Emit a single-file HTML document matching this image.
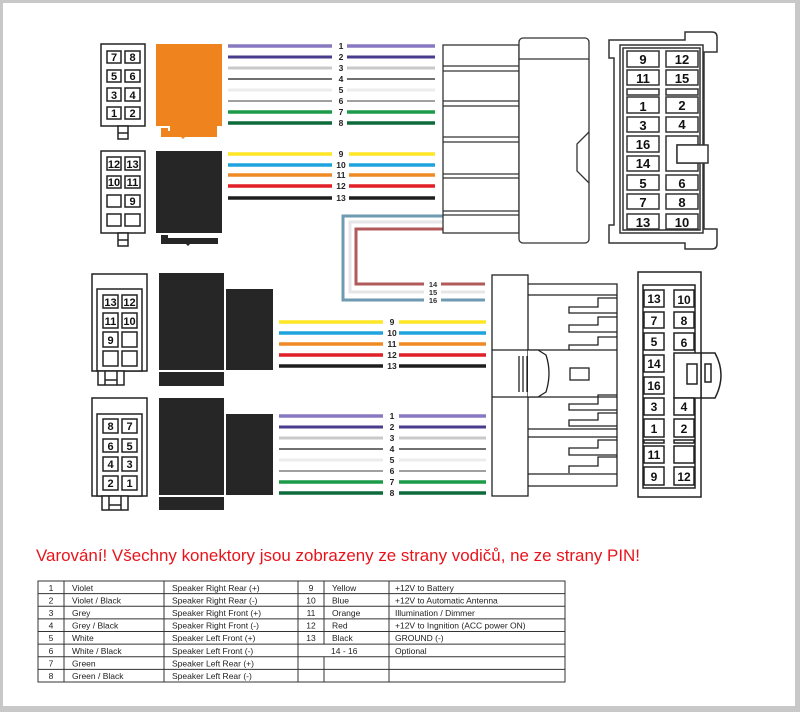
<!DOCTYPE html>
<html><head><meta charset="utf-8"><style>
html,body{margin:0;padding:0;background:#c8c8c8;}
svg{display:block;}
text{font-family:"Liberation Sans",Arial,sans-serif;}
</style></head><body>
<svg width="800" height="712" viewBox="0 0 800 712" xmlns="http://www.w3.org/2000/svg">
<rect x="0" y="0" width="800" height="712" fill="#c8c8c8"/>
<rect x="3" y="3" width="792" height="703" fill="#fff"/>

<g stroke="#222" stroke-width="1.5" fill="#fff">
<!-- top-left connector 1 -->
<rect x="101" y="44" width="44" height="82"/>
<rect x="118" y="126" width="10" height="13"/>
<line x1="118" y1="133" x2="128" y2="133"/>
<rect x="107" y="51" width="14" height="12"/><rect x="125" y="51" width="15" height="12"/>
<rect x="107" y="70" width="14" height="12"/><rect x="125" y="70" width="15" height="12"/>
<rect x="107" y="88" width="14" height="13"/><rect x="125" y="88" width="15" height="13"/>
<rect x="107" y="107" width="14" height="12"/><rect x="125" y="107" width="15" height="12"/>
<!-- top-left connector 2 -->
<rect x="101" y="151" width="44" height="82"/>
<rect x="118" y="233" width="10" height="13"/>
<line x1="118" y1="240" x2="128" y2="240"/>
<rect x="107" y="157" width="14" height="13"/><rect x="125" y="157" width="15" height="13"/>
<rect x="107" y="176" width="14" height="12"/><rect x="125" y="176" width="15" height="12"/>
<rect x="107" y="195" width="14" height="12"/><rect x="125" y="195" width="15" height="12"/>
<rect x="107" y="214" width="14" height="12"/><rect x="125" y="214" width="15" height="12"/>
</g>
<g font-weight="bold" font-size="11" text-anchor="middle" fill="#111">
<text x="114" y="61">7</text><text x="132.5" y="61">8</text>
<text x="114" y="80">5</text><text x="132.5" y="80">6</text>
<text x="114" y="99">3</text><text x="132.5" y="99">4</text>
<text x="114" y="117">1</text><text x="132.5" y="117">2</text>
<text x="114" y="168">12</text><text x="132.5" y="168">13</text>
<text x="114" y="186">10</text><text x="132.5" y="186">11</text>
<text x="132.5" y="205">9</text>
</g>
<!-- orange block -->
<path d="M156,44 H222 V126 H217 V131 H170 V126 H156 Z" fill="#ef841f"/>
<path d="M161,128 H168 V131 H217 V137 H185 L183,139 L181,137 H161 Z" fill="#ef841f"/>
<!-- black block top -->
<path d="M156,151 H222 V233 H156 Z" fill="#262626"/>
<path d="M161,235 H168 V238 H218 V244 H190 L188,246 L186,244 H161 Z" fill="#262626"/>

<!-- top wires -->
<g stroke-linecap="butt">
<line x1="228" y1="46" x2="332" y2="46" stroke="#8878c0" stroke-width="3.5"/><line x1="347" y1="46" x2="435" y2="46" stroke="#8878c0" stroke-width="3.5"/>
<line x1="228" y1="57" x2="332" y2="57" stroke="#4a3c8c" stroke-width="3"/><line x1="347" y1="57" x2="435" y2="57" stroke="#4a3c8c" stroke-width="3"/>
<line x1="228" y1="68" x2="332" y2="68" stroke="#c9c9c9" stroke-width="3"/><line x1="347" y1="68" x2="435" y2="68" stroke="#c9c9c9" stroke-width="3"/>
<line x1="228" y1="79" x2="332" y2="79" stroke="#707070" stroke-width="2"/><line x1="347" y1="79" x2="435" y2="79" stroke="#707070" stroke-width="2"/>
<line x1="228" y1="90" x2="332" y2="90" stroke="#ececec" stroke-width="3"/><line x1="347" y1="90" x2="435" y2="90" stroke="#ececec" stroke-width="3"/>
<line x1="228" y1="101" x2="332" y2="101" stroke="#808080" stroke-width="1.5"/><line x1="347" y1="101" x2="435" y2="101" stroke="#808080" stroke-width="1.5"/>
<line x1="228" y1="112" x2="332" y2="112" stroke="#1b9a48" stroke-width="3.5"/><line x1="347" y1="112" x2="435" y2="112" stroke="#1b9a48" stroke-width="3.5"/>
<line x1="228" y1="123" x2="332" y2="123" stroke="#0d6a3a" stroke-width="3.5"/><line x1="347" y1="123" x2="435" y2="123" stroke="#0d6a3a" stroke-width="3.5"/>
<line x1="228" y1="154" x2="332" y2="154" stroke="#ffe625" stroke-width="3.5"/><line x1="349" y1="154" x2="435" y2="154" stroke="#ffe625" stroke-width="3.5"/>
<line x1="228" y1="165" x2="332" y2="165" stroke="#1ea3dd" stroke-width="3.5"/><line x1="349" y1="165" x2="435" y2="165" stroke="#1ea3dd" stroke-width="3.5"/>
<line x1="228" y1="175" x2="332" y2="175" stroke="#ef8a25" stroke-width="3.5"/><line x1="349" y1="175" x2="435" y2="175" stroke="#ef8a25" stroke-width="3.5"/>
<line x1="228" y1="186" x2="332" y2="186" stroke="#e01f26" stroke-width="3.5"/><line x1="349" y1="186" x2="435" y2="186" stroke="#e01f26" stroke-width="3.5"/>
<line x1="228" y1="198" x2="332" y2="198" stroke="#1e1e1e" stroke-width="3.5"/><line x1="349" y1="198" x2="435" y2="198" stroke="#1e1e1e" stroke-width="3.5"/>
</g>
<g font-weight="bold" font-size="8.5" text-anchor="middle" fill="#222">
<text x="341" y="49">1</text><text x="341" y="60">2</text><text x="341" y="71">3</text><text x="341" y="82">4</text>
<text x="341" y="93">5</text><text x="341" y="104">6</text><text x="341" y="115">7</text><text x="341" y="126">8</text>
<text x="341" y="157">9</text><text x="341" y="168">10</text><text x="341" y="178">11</text><text x="341" y="189">12</text><text x="341" y="201">13</text>
</g>

<!-- loop wires 14-16 -->
<g fill="none" stroke-width="3">
<polyline points="443,216 343,216 343,300 424,300" stroke="#6e9ab2"/>
<polyline points="443,222 350,222 350,292 424,292" stroke="#e6e6e6"/>
<polyline points="443,229 356,229 356,284 424,284" stroke="#b25a5a"/>
<line x1="441" y1="284" x2="485" y2="284" stroke="#b25a5a"/>
<line x1="441" y1="292" x2="485" y2="292" stroke="#e6e6e6"/>
<line x1="441" y1="300" x2="485" y2="300" stroke="#6e9ab2"/>
</g>
<g font-weight="bold" font-size="7.5" text-anchor="middle" fill="#333">
<text x="433" y="287">14</text><text x="433" y="295">15</text><text x="433" y="303">16</text>
</g>

<!-- top right connector body -->
<g stroke="#333" stroke-width="1.3" fill="#fff">
<rect x="443" y="45" width="76" height="188"/>
<rect x="519" y="38" width="70" height="205" rx="4"/>
<line x1="519" y1="59" x2="589" y2="59"/>
<line x1="443" y1="66" x2="519" y2="66"/><line x1="443" y1="71" x2="519" y2="71"/>
<line x1="443" y1="101" x2="519" y2="101"/><line x1="443" y1="106" x2="519" y2="106"/>
<line x1="443" y1="137" x2="519" y2="137"/><line x1="443" y1="142" x2="519" y2="142"/>
<line x1="443" y1="174" x2="519" y2="174"/><line x1="443" y1="178" x2="519" y2="178"/>
<line x1="443" y1="211" x2="519" y2="211"/><line x1="443" y1="215" x2="519" y2="215"/>
<polyline points="589,132 577,144 577,171 589,183" fill="none"/>
</g>
<!-- top right pinout -->
<g stroke="#333" stroke-width="1.5" fill="#fff">
<path d="M609,40 H685 V32 H712 Q717,32 717,37 V52 H704 V229 H717 V244 Q717,249 712,249 H685 V243 H609 V225 H614 V58 H609 Z"/>
<rect x="620" y="45" width="83" height="188"/>
<rect x="623" y="48" width="77" height="182"/>
<rect x="627" y="51" width="32" height="16"/><rect x="666" y="51" width="32" height="16"/>
<rect x="627" y="70" width="32" height="15"/><rect x="666" y="70" width="32" height="15"/>
<rect x="627" y="89" width="32" height="6"/><rect x="666" y="89" width="32" height="6"/>
<rect x="627" y="97" width="32" height="16"/><rect x="666" y="97" width="32" height="16"/>
<rect x="627" y="117" width="32" height="15"/><rect x="666" y="117" width="32" height="15"/>
<rect x="627" y="136" width="32" height="16"/>
<rect x="627" y="156" width="32" height="15"/>
<path d="M666,136 H698 V145 H677 V163 H698 V171 H666 Z"/>
<rect x="677" y="145" width="31" height="18"/>
<rect x="627" y="175" width="32" height="15"/><rect x="666" y="175" width="32" height="15"/>
<rect x="627" y="194" width="32" height="15"/><rect x="666" y="194" width="32" height="15"/>
<rect x="627" y="214" width="32" height="15"/><rect x="666" y="214" width="32" height="15"/>
</g>
<g font-weight="bold" font-size="13" text-anchor="middle" fill="#111">
<text x="643" y="64">9</text><text x="682" y="64">12</text>
<text x="643" y="83">11</text><text x="682" y="83">15</text>
<text x="643" y="111">1</text><text x="682" y="110">2</text>
<text x="643" y="130">3</text><text x="682" y="129">4</text>
<text x="643" y="149">16</text>
<text x="643" y="168">14</text>
<text x="643" y="188">5</text><text x="682" y="188">6</text>
<text x="643" y="207">7</text><text x="682" y="207">8</text>
<text x="643" y="227">13</text><text x="682" y="227">10</text>
</g>

<!-- bottom left connectors -->
<g stroke="#222" stroke-width="1.5" fill="#fff">
<rect x="92" y="274" width="55" height="97"/>
<rect x="97" y="289" width="45" height="82"/>
<rect x="98" y="371" width="26" height="14"/>
<line x1="105" y1="371" x2="105" y2="385"/><line x1="117" y1="371" x2="117" y2="385"/><line x1="105" y1="380" x2="117" y2="380"/>
<rect x="103" y="295" width="15" height="13"/><rect x="122" y="295" width="15" height="13"/>
<rect x="103" y="313" width="15" height="15"/><rect x="122" y="313" width="15" height="15"/>
<rect x="103" y="332" width="15" height="15"/><rect x="122" y="332" width="15" height="15"/>
<rect x="103" y="351" width="15" height="15"/><rect x="122" y="351" width="15" height="15"/>

<rect x="92" y="398" width="55" height="98"/>
<rect x="97" y="414" width="45" height="82"/>
<rect x="102" y="496" width="26" height="14"/>
<line x1="109" y1="496" x2="109" y2="510"/><line x1="121" y1="496" x2="121" y2="510"/><line x1="109" y1="505" x2="121" y2="505"/>
<rect x="103" y="419" width="15" height="14"/><rect x="122" y="419" width="15" height="14"/>
<rect x="103" y="439" width="15" height="13"/><rect x="122" y="439" width="15" height="13"/>
<rect x="103" y="457" width="15" height="14"/><rect x="122" y="457" width="15" height="14"/>
<rect x="103" y="476" width="15" height="14"/><rect x="122" y="476" width="15" height="14"/>
</g>
<g font-weight="bold" font-size="11" text-anchor="middle" fill="#111">
<text x="110.5" y="306">13</text><text x="129.5" y="306">12</text>
<text x="110.5" y="325">11</text><text x="129.5" y="325">10</text>
<text x="110.5" y="344">9</text>
<text x="110.5" y="430">8</text><text x="129.5" y="430">7</text>
<text x="110.5" y="450">6</text><text x="129.5" y="450">5</text>
<text x="110.5" y="468">4</text><text x="129.5" y="468">3</text>
<text x="110.5" y="487">2</text><text x="129.5" y="487">1</text>
</g>
<g fill="#262626">
<rect x="159" y="273" width="65" height="97"/>
<rect x="159" y="372" width="65" height="14"/>
<rect x="226" y="289" width="47" height="81"/>
<rect x="159" y="398" width="65" height="97"/>
<rect x="159" y="497" width="65" height="13"/>
<rect x="226" y="414" width="47" height="81"/>
</g>

<!-- bottom wires -->
<g>
<line x1="279" y1="322" x2="383" y2="322" stroke="#ffe625" stroke-width="3.5"/><line x1="399" y1="322" x2="486" y2="322" stroke="#ffe625" stroke-width="3.5"/>
<line x1="279" y1="333" x2="383" y2="333" stroke="#1ea3dd" stroke-width="3.5"/><line x1="399" y1="333" x2="486" y2="333" stroke="#1ea3dd" stroke-width="3.5"/>
<line x1="279" y1="344" x2="383" y2="344" stroke="#ef8a25" stroke-width="3.5"/><line x1="399" y1="344" x2="486" y2="344" stroke="#ef8a25" stroke-width="3.5"/>
<line x1="279" y1="355" x2="383" y2="355" stroke="#e01f26" stroke-width="3.5"/><line x1="399" y1="355" x2="486" y2="355" stroke="#e01f26" stroke-width="3.5"/>
<line x1="279" y1="366" x2="383" y2="366" stroke="#1e1e1e" stroke-width="3.5"/><line x1="399" y1="366" x2="486" y2="366" stroke="#1e1e1e" stroke-width="3.5"/>
<line x1="279" y1="416" x2="383" y2="416" stroke="#8878c0" stroke-width="3.5"/><line x1="399" y1="416" x2="486" y2="416" stroke="#8878c0" stroke-width="3.5"/>
<line x1="279" y1="427" x2="383" y2="427" stroke="#4a3c8c" stroke-width="3"/><line x1="399" y1="427" x2="486" y2="427" stroke="#4a3c8c" stroke-width="3"/>
<line x1="279" y1="438" x2="383" y2="438" stroke="#c9c9c9" stroke-width="3"/><line x1="399" y1="438" x2="486" y2="438" stroke="#c9c9c9" stroke-width="3"/>
<line x1="279" y1="449" x2="383" y2="449" stroke="#707070" stroke-width="2"/><line x1="399" y1="449" x2="486" y2="449" stroke="#707070" stroke-width="2"/>
<line x1="279" y1="460" x2="383" y2="460" stroke="#ececec" stroke-width="3"/><line x1="399" y1="460" x2="486" y2="460" stroke="#ececec" stroke-width="3"/>
<line x1="279" y1="471" x2="383" y2="471" stroke="#808080" stroke-width="1.5"/><line x1="399" y1="471" x2="486" y2="471" stroke="#808080" stroke-width="1.5"/>
<line x1="279" y1="482" x2="383" y2="482" stroke="#1b9a48" stroke-width="3.5"/><line x1="399" y1="482" x2="486" y2="482" stroke="#1b9a48" stroke-width="3.5"/>
<line x1="279" y1="493" x2="383" y2="493" stroke="#0d6a3a" stroke-width="3.5"/><line x1="399" y1="493" x2="486" y2="493" stroke="#0d6a3a" stroke-width="3.5"/>
</g>
<g font-weight="bold" font-size="8.5" text-anchor="middle" fill="#222">
<text x="392" y="325">9</text><text x="392" y="336">10</text><text x="392" y="347">11</text><text x="392" y="358">12</text><text x="392" y="369">13</text>
<text x="392" y="419">1</text><text x="392" y="430">2</text><text x="392" y="441">3</text><text x="392" y="452">4</text>
<text x="392" y="463">5</text><text x="392" y="474">6</text><text x="392" y="485">7</text><text x="392" y="496">8</text>
</g>

<!-- bottom right connector body -->
<g stroke="#222" stroke-width="1.3" fill="none">
<polyline points="528,284 617,284 617,486 528,486" fill="#fff"/>
<rect x="492" y="275" width="36" height="221" fill="#fff"/>
<line x1="528" y1="295" x2="617" y2="295"/>
<line x1="528" y1="474" x2="617" y2="474"/>
<line x1="492" y1="350" x2="617" y2="350"/>
<line x1="492" y1="397" x2="617" y2="397"/>
<path d="M528,350 H538 L546,355 Q552,373 546,392 L538,397 H528" fill="#fff"/>
<line x1="519" y1="356" x2="519" y2="392"/><line x1="523" y1="356" x2="523" y2="392"/><line x1="527" y1="356" x2="527" y2="392"/>
<rect x="570" y="368" width="19" height="12"/>
<line x1="528" y1="429" x2="617" y2="429"/><line x1="528" y1="437" x2="617" y2="437"/>
<polyline points="617,298 598,298 598,307 569,307 569,313 617,313"/>
<polyline points="617,317 598,317 598,325 569,325 569,332 617,332"/>
<polyline points="617,337 598,337 598,345 569,345 569,350"/>
<polyline points="617,395 598,395 598,404 569,404 569,410 617,410"/>
<polyline points="617,413 598,413 598,420 569,420 569,426 617,426"/>
<polyline points="617,440 598,440 598,448 569,448 569,455 617,455"/>
<polyline points="617,457 598,457 598,466 569,466 569,473"/>
</g>
<!-- bottom right pinout -->
<g stroke="#222" stroke-width="1.5" fill="#fff">
<path d="M674,353 H715 Q727,375 715,398 H674 Z"/>
<rect x="638" y="272" width="63" height="225"/>
<rect x="643" y="285" width="52" height="203"/>
<rect x="644" y="290" width="20" height="17"/><rect x="674" y="290" width="20" height="17"/>
<rect x="644" y="312" width="20" height="16"/><rect x="674" y="312" width="20" height="16"/>
<rect x="644" y="333" width="20" height="17"/><rect x="674" y="333" width="20" height="17"/>
<rect x="644" y="355" width="20" height="17"/>
<rect x="644" y="377" width="20" height="17"/>
<rect x="674" y="353" width="27" height="45"/>
<rect x="687" y="364" width="10" height="20"/><rect x="705" y="364" width="6" height="18"/>
<rect x="644" y="398" width="20" height="17"/><rect x="674" y="398" width="20" height="17"/>
<rect x="644" y="419" width="20" height="18"/><rect x="674" y="419" width="20" height="18"/>
<rect x="644" y="440" width="20" height="3"/><rect x="674" y="440" width="20" height="3"/>
<rect x="644" y="446" width="20" height="17"/><rect x="674" y="446" width="20" height="17"/>
<rect x="644" y="467" width="20" height="18"/><rect x="674" y="467" width="20" height="18"/>
</g>
<g font-weight="bold" font-size="12" text-anchor="middle" fill="#111">
<text x="654" y="303">13</text><text x="684" y="304">10</text>
<text x="654" y="325">7</text><text x="684" y="325">8</text>
<text x="654" y="346">5</text><text x="684" y="347">6</text>
<text x="654" y="368">14</text>
<text x="654" y="390">16</text>
<text x="654" y="411">3</text><text x="684" y="411">4</text>
<text x="654" y="433">1</text><text x="684" y="433">2</text>
<text x="654" y="459">11</text>
<text x="654" y="481">9</text><text x="684" y="481">12</text>
</g>

<!-- warning -->
<text x="36" y="561" font-size="17" fill="#e8141c" textLength="604" lengthAdjust="spacingAndGlyphs">Varování! Všechny konektory jsou zobrazeny ze strany vodičů, ne ze strany PIN!</text>

<!-- table -->
<g stroke="#333" stroke-width="1" fill="none">
<rect x="38" y="581" width="527" height="101"/>
<line x1="38" y1="593.6" x2="565" y2="593.6"/>
<line x1="38" y1="606.2" x2="565" y2="606.2"/>
<line x1="38" y1="618.9" x2="565" y2="618.9"/>
<line x1="38" y1="631.5" x2="565" y2="631.5"/>
<line x1="38" y1="644.1" x2="565" y2="644.1"/>
<line x1="38" y1="656.8" x2="565" y2="656.8"/>
<line x1="38" y1="669.4" x2="565" y2="669.4"/>
<line x1="64" y1="581" x2="64" y2="682"/>
<line x1="164" y1="581" x2="164" y2="682"/>
<line x1="298" y1="581" x2="298" y2="682"/>
<line x1="324" y1="581" x2="324" y2="644.1"/>
<line x1="324" y1="656.8" x2="324" y2="682"/>
<line x1="389" y1="581" x2="389" y2="682"/>
</g>
<g font-size="8.5" fill="#222">
<g text-anchor="middle">
<text x="51" y="591">1</text><text x="51" y="603.5">2</text><text x="51" y="616">3</text><text x="51" y="628.5">4</text>
<text x="51" y="641">5</text><text x="51" y="654">6</text><text x="51" y="666.5">7</text><text x="51" y="679">8</text>
<text x="311" y="591">9</text><text x="311" y="603.5">10</text><text x="311" y="616">11</text><text x="311" y="628.5">12</text>
<text x="311" y="641">13</text>
</g>
<text x="72" y="591">Violet</text><text x="72" y="603.5">Violet / Black</text><text x="72" y="616">Grey</text><text x="72" y="628.5">Grey / Black</text>
<text x="72" y="641">White</text><text x="72" y="654">White / Black</text><text x="72" y="666.5">Green</text><text x="72" y="679">Green / Black</text>
<text x="172" y="591">Speaker Right Rear (+)</text><text x="172" y="603.5">Speaker Right Rear (-)</text>
<text x="172" y="616">Speaker Right Front (+)</text><text x="172" y="628.5">Speaker Right Front (-)</text>
<text x="172" y="641">Speaker Left Front (+)</text><text x="172" y="654">Speaker Left Front (-)</text>
<text x="172" y="666.5">Speaker Left Rear (+)</text><text x="172" y="679">Speaker Left Rear (-)</text>
<text x="332" y="591">Yellow</text><text x="332" y="603.5">Blue</text><text x="332" y="616">Orange</text><text x="332" y="628.5">Red</text>
<text x="332" y="641">Black</text><text x="331" y="654">14 - 16</text>
<text x="395" y="591">+12V to Battery</text><text x="395" y="603.5">+12V to Automatic Antenna</text>
<text x="395" y="616">Illumination / Dimmer</text><text x="395" y="628.5">+12V to Ingnition (ACC power ON)</text>
<text x="395" y="641">GROUND (-)</text><text x="395" y="654">Optional</text>
</g>
</svg>
</body></html>
